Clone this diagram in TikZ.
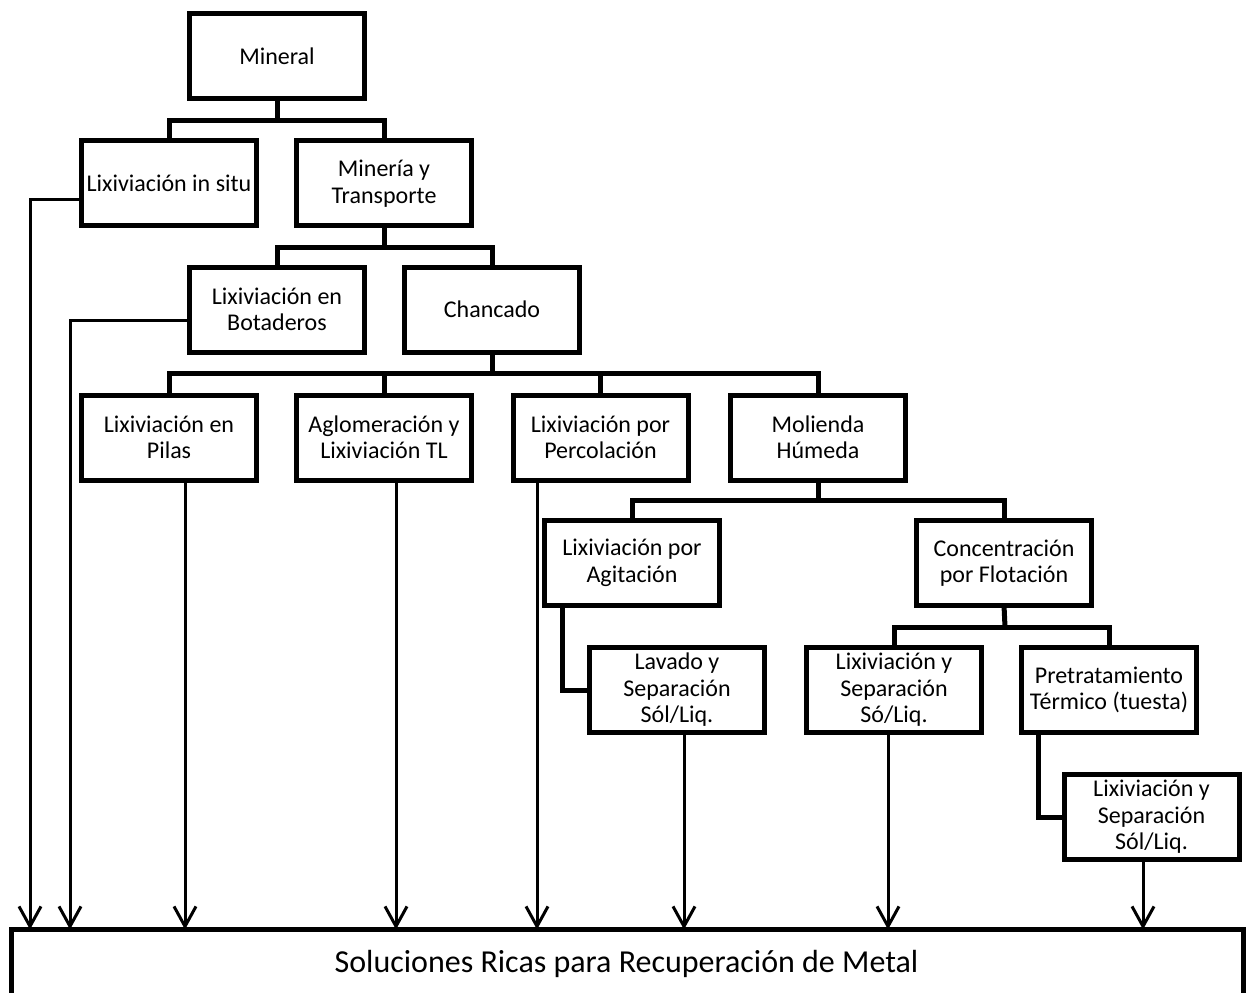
\documentclass[tikz,border=0pt]{standalone}
\usepackage{fontspec}
\setmainfont{Carlito}
\usetikzlibrary{arrows.meta}

\tikzset{
  box/.style={draw, line width=5pt, minimum width=175pt, minimum height=85pt,
    inner sep=0pt, outer sep=0pt, align=center,
    font=\fontsize{24}{26.5}\selectfont},
  conn/.style={line width=5pt},
  flow/.style={line width=3pt,
    -{Straight Barb[length=20pt,width=22pt,line width=3pt]}},
}

\begin{document}
\begin{tikzpicture}[x=1pt,y=-1pt]
\useasboundingbox (0,0) rectangle (1246,992);

% process boxes
\node[box] (min)  at (277,56.5)    {Mineral};
\node[box] (situ) at (169,183.5)   {Lixiviación in situ};
\node[box] (mint) at (384,183.5)   {Minería y\\Transporte};
\node[box] (bot)  at (277,309.5)   {Lixiviación en\\Botaderos};
\node[box] (chan) at (492,309.5)   {Chancado};
\node[box] (pil)  at (169,437.5)   {Lixiviación en\\Pilas};
\node[box] (agl)  at (384,437.5)   {Aglomeración y\\Lixiviación TL};
\node[box] (per)  at (600.5,437.5) {Lixiviación por\\Percolación};
\node[box] (mol)  at (818,437.5)   {Molienda\\Húmeda};
\node[box] (agi)  at (632,563)     {Lixiviación por\\Agitación};
\node[box] (con)  at (1004,563)    {Concentración\\por Flotación};
\node[box] (lav)  at (677,690)     {Lavado y\\Separación\\Sól/Liq.};
\node[box] (lsep) at (894,690)     {Lixiviación y\\Separación\\Só/Liq.};
\node[box] (pre)  at (1109,690)    {Pretratamiento\\Térmico (tuesta)};
\node[box] (lsl)  at (1151.5,817)  {Lixiviación y\\Separación\\Sól/Liq.};

% collecting box at the bottom (runs past the lower edge)
\node[draw, line width=5.5pt, minimum width=1232pt, minimum height=81pt,
  inner sep=0pt, outer sep=0pt] (sol) at (627.5,970) {};
\node[anchor=base, inner sep=0pt, font=\fontsize{32}{36}\selectfont]
  (soltxt) at (626.5,972) {Soluciones Ricas para Recuperación de Metal};

% branching points of the tree
\coordinate (b1) at (277,121);
\coordinate (b2) at (384,247);
\coordinate (b3) at (492,373);
\coordinate (b4) at (818,500);
\coordinate (b5) at (1005,627);

% tree connectors
\draw[conn] (min.south) -- (b1);
\draw[conn] (situ.north) |- (b1) -| (mint.north);
\draw[conn] (mint.south) -- (b2);
\draw[conn] (bot.north) |- (b2) -| (chan.north);
\draw[conn] (chan.south) -- (b3);
\draw[conn] (pil.north) |- (b3) -| (mol.north);
\draw[conn] (agl.north) -- (agl.north |- b3);
\draw[conn] (per.north) -- (per.north |- b3);
\draw[conn] (mol.south) -- (b4);
\draw[conn] (agi.north) |- (b4) -| (con.north);
\draw[conn] (con.south) -- (b5);
\draw[conn] (lsep.north) |- (b5) -| (pre.north);
\draw[conn] ([xshift=-70pt]agi.south) |- (lav.west);
\draw[conn] ([xshift=-71pt]pre.south) |- (lsl.west);

% flows into the collecting box
\draw[flow] ([yshift=-16.5pt]situ.west) -| ([xshift=18.5pt]sol.north west);
\draw[flow] ([yshift=-10.5pt]bot.west) -| ([xshift=58.5pt]sol.north west);
\draw[flow] ([xshift=16pt]pil.south) -- ([xshift=16pt]pil.south |- sol.north);
\draw[flow] ([xshift=12pt]agl.south) -- ([xshift=12pt]agl.south |- sol.north);
\draw[flow] ([xshift=-63.5pt]per.south) -- ([xshift=-63.5pt]per.south |- sol.north);
\draw[flow] ([xshift=7pt]lav.south) -- ([xshift=7pt]lav.south |- sol.north);
\draw[flow] ([xshift=-6pt]lsep.south) -- ([xshift=-6pt]lsep.south |- sol.north);
\draw[flow] ([xshift=-8.5pt]lsl.south) -- ([xshift=-8.5pt]lsl.south |- sol.north);
\end{tikzpicture}
\end{document}
